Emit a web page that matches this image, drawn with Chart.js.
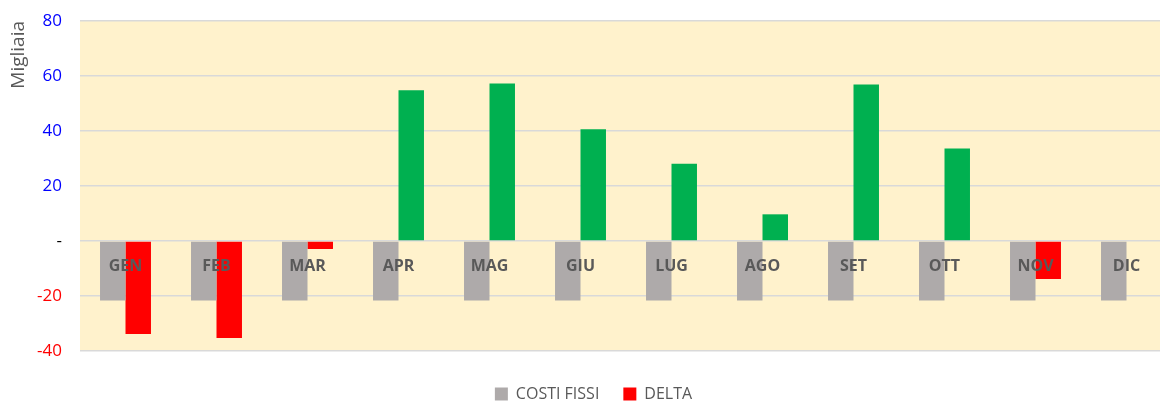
<!DOCTYPE html>
<html>
<head>
<meta charset="utf-8">
<script src="https://cdn.jsdelivr.net/npm/chart.js@4/dist/chart.umd.min.js"></script>
<style>
  html, body { margin: 0; padding: 0; background: #ffffff; overflow: hidden; }
  #wrap { position: relative; width: 1160px; height: 401px; overflow: hidden; }
</style>
</head>
<body>
<div id="wrap"><canvas id="c" width="1172" height="401"></canvas></div>
<script>
const categories = ['GEN','FEB','MAR','APR','MAG','GIU','LUG','AGO','SET','OTT','NOV','DIC'];
const costiFissi = [-21.6,-21.6,-21.6,-21.6,-21.6,-21.6,-21.6,-21.6,-21.6,-21.6,-21.6,-21.6];
const delta = [-33.8,-35.3,-2.9,54.8,57.3,40.6,28.1,9.7,56.9,33.6,-13.8,0];
const yTicks = [-40,-20,0,20,40,60,80];
const seriesNames = ['COSTI FISSI','DELTA'];

const FONT = "'Open Sans', 'Liberation Sans', sans-serif";

const plotBg = {
  id: 'plotBg',
  beforeDraw(chart) {
    const {ctx, chartArea: a} = chart;
    ctx.save();
    ctx.fillStyle = '#FFF2CC';
    ctx.fillRect(a.left, a.top, a.right - a.left, a.bottom - a.top);
    ctx.restore();
  }
};

new Chart(document.getElementById('c'), {
  type: 'bar',
  data: {
    labels: categories,
    datasets: [
      {
        label: seriesNames[0],
        data: costiFissi,
        backgroundColor: '#AEAAAA',
        categoryPercentage: 0.56,
        barPercentage: 1.0
      },
      {
        label: seriesNames[1],
        data: delta,
        backgroundColor: c => (c.raw === undefined ? 1 : c.raw) < 0 ? '#FF0000' : '#00B050',
        categoryPercentage: 0.56,
        barPercentage: 1.0
      }
    ]
  },
  options: {
    responsive: false,
    animation: false,
    layout: { padding: { top: 21, right: 0, bottom: -11, left: 15 } },
    plugins: {
      legend: {
        position: 'bottom',
        labels: {
          color: '#595959',
          font: { family: FONT, size: 16 },
          boxWidth: 13,
          boxHeight: 13,
          padding: 24
        }
      },
      tooltip: { enabled: false }
    },
    scales: {
      x: {
        position: { y: 0 },
        grid: { display: false, drawTicks: false },
        border: { display: false },
        ticks: {
          z: 1,
          color: '#595959',
          font: { family: FONT, size: 16, weight: 'bold' },
          padding: 16,
          maxRotation: 0,
          autoSkip: false
        }
      },
      x2: {
        type: 'category',
        labels: categories,
        position: 'bottom',
        display: true,
        grid: { display: false, drawTicks: false },
        border: { display: false },
        ticks: { display: false },
        afterFit: s => { s.height = 11; }
      },
      y: {
        min: -40,
        max: 80,
        afterBuildTicks: s => { s.ticks = yTicks.map(v => ({ value: v })); },
        afterFit: s => { s.width = 65; s.paddingTop = 0; s.paddingBottom = 0; },
        grid: { color: '#D9D9D9', lineWidth: 1.5, drawTicks: false },
        border: { display: false },
        ticks: {
          padding: 18,
          font: { family: FONT, size: 17 },
          color: c => c.tick.value > 0 ? '#0000FF' : (c.tick.value < 0 ? '#FF0000' : '#000000'),
          callback: v => v === 0 ? '-' : String(v)
        },
        title: {
          display: true,
          text: 'Migliaia',
          align: 'end',
          color: '#595959',
          font: { family: FONT, size: 19 },
          padding: { top: -8, bottom: 0 }
        }
      }
    }
  },
  plugins: [plotBg]
});
</script>
</body>
</html>
